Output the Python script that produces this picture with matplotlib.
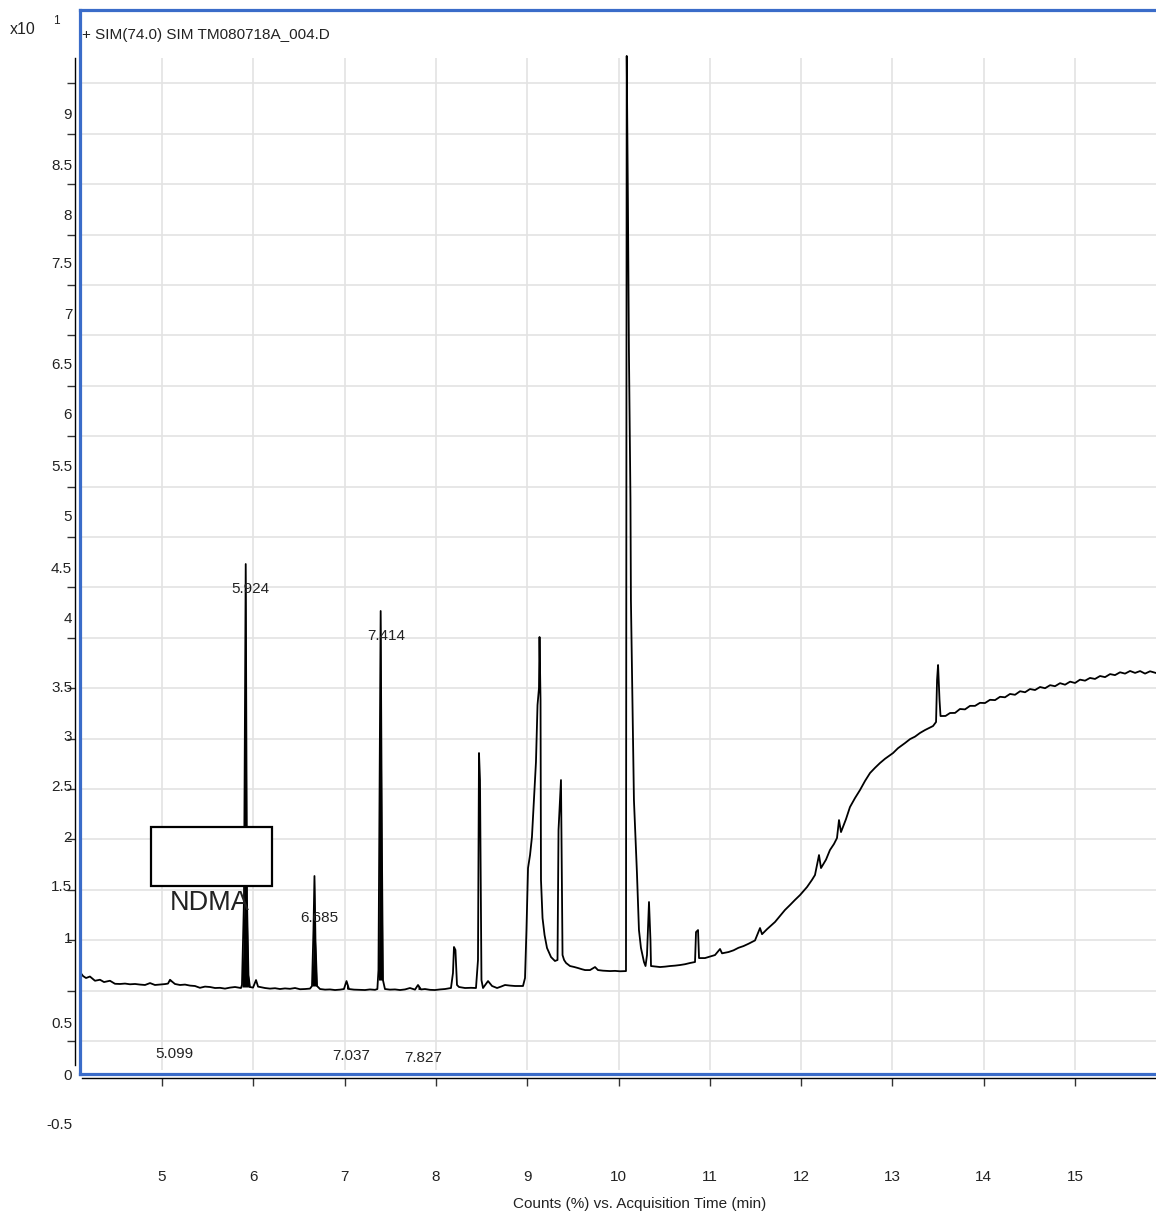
import matplotlib
matplotlib.use('Agg')
import matplotlib.pyplot as plt
import numpy as np
from matplotlib.patches import Rectangle

plt.rcParams['font.family'] = ['Liberation Sans', 'DejaVu Sans']

# ---------------- data ----------------
time_min = [
    4.102, 4.135, 4.168, 4.211, 4.266, 4.321, 4.365, 4.430, 4.485, 4.540, 4.595, 4.650,
    4.705, 4.760, 4.814, 4.869, 4.923, 4.978, 5.033, 5.066, 5.088, 5.110, 5.142, 5.197,
    5.252, 5.307, 5.361, 5.416, 5.471, 5.526, 5.581, 5.635, 5.690, 5.745, 5.800, 5.865,
    5.876, 5.898, 5.917, 5.931, 5.947, 5.963,
    5.997, 6.030, 6.052, 6.128, 6.183, 6.238, 6.292, 6.347, 6.402, 6.457, 6.512, 6.566,
    6.621, 6.643,
    6.659, 6.670, 6.681, 6.698, 6.731, 6.786, 6.840, 6.895, 6.950, 6.993, 7.021, 7.048,
    7.103, 7.158, 7.223, 7.278, 7.333, 7.359,
    7.371, 7.382, 7.395, 7.409, 7.420, 7.442, 7.497, 7.552, 7.607, 7.662, 7.716, 7.771,
    7.804, 7.837, 7.880, 7.935, 7.990, 8.045, 8.100, 8.165,
    8.187, 8.198, 8.214, 8.231, 8.253, 8.319, 8.384, 8.439,
    8.461, 8.472, 8.483, 8.499, 8.516, 8.571, 8.615, 8.670, 8.713, 8.757, 8.812, 8.867, 8.954,
    8.976, 8.992, 9.009, 9.031, 9.052, 9.074, 9.096, 9.113, 9.129, 9.135, 9.146, 9.151,
    9.168, 9.190, 9.217, 9.261, 9.304, 9.332,
    9.343, 9.370, 9.387, 9.404, 9.426, 9.469, 9.513, 9.557, 9.600, 9.634, 9.688, 9.743,
    9.775, 9.830, 9.907, 9.962, 10.016, 10.082,
    10.090, 10.103, 10.114, 10.131, 10.136, 10.169, 10.202, 10.224, 10.246, 10.279, 10.296,
    10.312, 10.334, 10.350, 10.356, 10.400, 10.455, 10.510, 10.564, 10.619, 10.674, 10.728,
    10.783, 10.838,
    10.849, 10.871, 10.882, 10.947, 11.002, 11.057, 11.112, 11.134, 11.205, 11.260, 11.314,
    11.369, 11.424, 11.495, 11.550, 11.572, 11.627, 11.714, 11.768, 11.823, 11.878, 11.933,
    11.988, 12.065, 12.120, 12.152, 12.196, 12.218, 12.273, 12.316, 12.360, 12.393, 12.415,
    12.437, 12.491, 12.535, 12.590, 12.645, 12.700, 12.755, 12.809, 12.864, 12.919, 13.007,
    13.061, 13.138, 13.193, 13.248, 13.302, 13.357, 13.412, 13.445, 13.478,
    13.489, 13.500, 13.516, 13.527, 13.582, 13.631, 13.686, 13.740, 13.795, 13.850, 13.905,
    13.959, 14.014, 14.069, 14.124, 14.179, 14.233, 14.288, 14.343, 14.398, 14.453, 14.507,
    14.562, 14.617, 14.672, 14.727, 14.781, 14.836, 14.891, 14.946, 15.000, 15.055, 15.110,
    15.164, 15.219, 15.274, 15.329, 15.384, 15.438, 15.493, 15.548, 15.603, 15.658, 15.713,
    15.767, 15.822, 15.887,
]

counts = [
    0.685, 0.645, 0.625, 0.640, 0.598, 0.608, 0.585, 0.598, 0.568, 0.566, 0.570, 0.563,
    0.566, 0.560, 0.556, 0.575, 0.556, 0.560, 0.565, 0.570, 0.608, 0.590, 0.566, 0.556,
    0.560, 0.550, 0.546, 0.528, 0.540, 0.536, 0.526, 0.528, 0.520, 0.530, 0.536, 0.526,
    0.556, 1.400, 4.732, 1.400, 0.655, 0.536,
    0.530, 0.605, 0.540, 0.526, 0.520, 0.524, 0.516, 0.522, 0.518, 0.526, 0.514, 0.516,
    0.520, 0.546,
    1.100, 1.637, 1.000, 0.546, 0.516, 0.510, 0.512, 0.506, 0.510, 0.516, 0.595, 0.516,
    0.510, 0.508, 0.506, 0.512, 0.508, 0.516,
    0.704, 2.390, 4.266, 1.895, 0.605, 0.516, 0.510, 0.512, 0.506, 0.512, 0.526, 0.510,
    0.556, 0.512, 0.516, 0.508, 0.506, 0.512, 0.516, 0.526,
    0.675, 0.933, 0.903, 0.556, 0.536, 0.526, 0.528, 0.526,
    0.804, 2.857, 2.589, 0.605, 0.526, 0.595, 0.546, 0.526, 0.540, 0.556, 0.550, 0.546, 0.546,
    0.625, 1.101, 1.716, 1.845, 2.024, 2.391, 2.768, 3.333, 3.502, 4.008, 3.383, 1.597,
    1.220, 1.052, 0.923, 0.833, 0.794, 0.804,
    2.093, 2.589, 0.853, 0.804, 0.774, 0.744, 0.735, 0.724, 0.712, 0.704, 0.704, 0.734,
    0.704, 0.698, 0.694, 0.696, 0.692, 0.694,
    9.772, 8.343, 6.855, 5.367, 4.375, 2.391, 1.667, 1.101, 0.923, 0.784, 0.744,
    0.853, 1.379, 1.002, 0.744, 0.740, 0.734, 0.738, 0.744, 0.748, 0.754, 0.762,
    0.774, 0.784,
    1.081, 1.101, 0.823, 0.823, 0.838, 0.853, 0.913, 0.870, 0.883, 0.900, 0.925,
    0.942, 0.965, 0.998, 1.121, 1.060, 1.110, 1.181, 1.240, 1.300, 1.349, 1.400,
    1.448, 1.528, 1.600, 1.647, 1.845, 1.716, 1.800, 1.895, 1.955, 2.014, 2.192,
    2.073, 2.200, 2.321, 2.410, 2.490, 2.580, 2.659, 2.710, 2.758, 2.800, 2.857,
    2.905, 2.956, 2.995, 3.020, 3.056, 3.085, 3.110, 3.125, 3.165,
    3.581, 3.730, 3.383, 3.224, 3.225, 3.254, 3.255, 3.294, 3.290, 3.325, 3.325,
    3.355, 3.353, 3.385, 3.382, 3.415, 3.410, 3.443, 3.435, 3.470, 3.460, 3.492,
    3.482, 3.512, 3.500, 3.530, 3.520, 3.550, 3.535, 3.565, 3.552, 3.585, 3.575,
    3.602, 3.592, 3.621, 3.610, 3.640, 3.630, 3.658, 3.645, 3.671, 3.652, 3.670,
    3.645, 3.668, 3.651,
]

# integrated peaks (filled)
integ_start = [5.07, 5.870, 6.640, 7.010, 7.365, 7.790]
integ_end = [5.13, 5.965, 6.700, 7.050, 7.425, 7.840]

peak_labels = ['5.924', '7.414', '6.685', '5.099', '7.037', '7.827']
label_t = [5.964, 7.453, 6.720, 5.131, 7.075, 7.865]
label_v = [4.484, 4.018, 1.220, -0.129, -0.149, -0.165]

compound = 'NDMA'
x_ticks = [5, 6, 7, 8, 9, 10, 11, 12, 13, 14, 15]
y_grid = [0, 0.5, 1, 1.5, 2, 2.5, 3, 3.5, 4, 4.5, 5, 5.5, 6, 6.5, 7, 7.5, 8, 8.5, 9, 9.5]
y_labels = ['9', '8.5', '8', '7.5', '7', '6.5', '6', '5.5', '5', '4.5', '4',
            '3.5', '3', '2.5', '2', '1.5', '1', '0.5', '0', '-0.5']
y_label_pos = [9.206, 8.70, 8.20, 7.72, 7.22, 6.72, 6.23, 5.71, 5.21, 4.70, 4.20,
               3.52, 3.03, 2.53, 2.03, 1.54, 1.03, 0.18, -0.33, -0.82]

# ---------------- figure ----------------
W, H = 1156, 1214
fig = plt.figure(figsize=(W / 100, H / 100), dpi=100)


def fx(px):
    return px / W


def fy(py):
    return 1 - py / H


BLUE = '#3a6cc9'
GRID = '#e3e3e3'
FS = 11
TXT = '#222222'
YMIN, YMAX = -0.327, 10.228
XMIN, XMAX = 4.102, 15.887

ax = fig.add_axes([fx(80), fy(1074), fx(1156) - fx(80), fy(10) - fy(1074)])

for s in ['top', 'bottom']:
    ax.spines[s].set_color(BLUE)
    ax.spines[s].set_linewidth(2.3)
ax.spines['right'].set_visible(False)
ax.spines['left'].set_color('black')
ax.spines['left'].set_linewidth(1.0)
ax.spines['left'].set_position(('outward', 3.6))
ax.spines['left'].set_bounds(-0.238, 9.752)

ax.set_yticks(y_grid)
ax.tick_params(axis='y', which='major', direction='out', length=5.8, width=1.0,
               color='#333333', labelleft=False)
ax.yaxis.grid(True, which='major', color=GRID, lw=1.2, zorder=0)
ax.set_xticks([])
ax.set_xlim(XMIN, XMAX)
ax.set_ylim(YMIN, YMAX)
ax.axvline(XMIN, color=BLUE, lw=2.3, clip_on=False, zorder=10)
ax.vlines(x_ticks, -0.29, 9.75, colors=GRID, lw=1.2, zorder=0)

t = np.array(time_min)
v = np.array(counts)
for a, b in zip(integ_start, integ_end):
    m = (t >= a) & (t <= b)
    ax.fill_between(t[m], v[m], v[m].min(), color='black', lw=0, zorder=2)
ax.plot(t, v, color='black', lw=1.3, zorder=3)

for lab, lt, lv in zip(peak_labels, label_t, label_v):
    ax.text(lt, lv, lab, ha='center', va='center', fontsize=FS, color=TXT, zorder=6)

ax.add_patch(Rectangle((4.880, 1.538), 6.205 - 4.880, 2.123 - 1.538,
                       facecolor='white', edgecolor='black', lw=1.6, zorder=5))
ax.text(5.526, 1.369, compound, ha='center', va='center', fontsize=19.5,
        color=TXT, zorder=6)
ax.set_xlim(XMIN, XMAX)
ax.set_ylim(YMIN, YMAX)

# y tick labels (same vertical scale, extends below the frame)
ylab_bottom = YMIN - (1150 - 1074) / 100.8
axl = fig.add_axes([fx(75), fy(1150), 0.0001, fy(10) - fy(1150)])
axl.patch.set_visible(False)
for s in axl.spines.values():
    s.set_visible(False)
axl.set_xticks([])
axl.set_yticks(y_label_pos)
axl.set_yticklabels(y_labels)
axl.set_ylim(ylab_bottom, YMAX)
axl.tick_params(axis='y', length=0, pad=2.0, labelsize=FS, labelcolor=TXT)

# x axis (separate black line below the blue frame)
axx = fig.add_axes([fx(80), fy(1078), fx(1156) - fx(80), 0.0001])
axx.patch.set_visible(False)
for s in ['top', 'left', 'right']:
    axx.spines[s].set_visible(False)
axx.spines['bottom'].set_linewidth(1.0)
axx.set_yticks([])
axx.set_xticks(x_ticks)
axx.set_xticklabels([str(x) for x in x_ticks])
axx.set_xlim(XMIN, XMAX)
axx.spines['bottom'].set_bounds(4.124, XMAX)
axx.tick_params(axis='x', direction='out', length=5.8, width=1.0, color='#333333',
                pad=60.5, labelsize=FS, labelcolor=TXT)

fig.text(fx(640), fy(1204), 'Counts (%) vs. Acquisition Time (min)', ha='center',
         va='center', fontsize=FS, color=TXT)
fig.text(fx(82), fy(35), '+ SIM(74.0) SIM TM080718A_004.D', ha='left', va='center',
         fontsize=FS, color=TXT)
fig.text(fx(10), fy(29), 'x10', ha='left', va='center', fontsize=11.5, color=TXT)
fig.text(fx(53), fy(21), '1', ha='left', va='center', fontsize=8.5, color=TXT)

fig.savefig('out.png', dpi=100)
